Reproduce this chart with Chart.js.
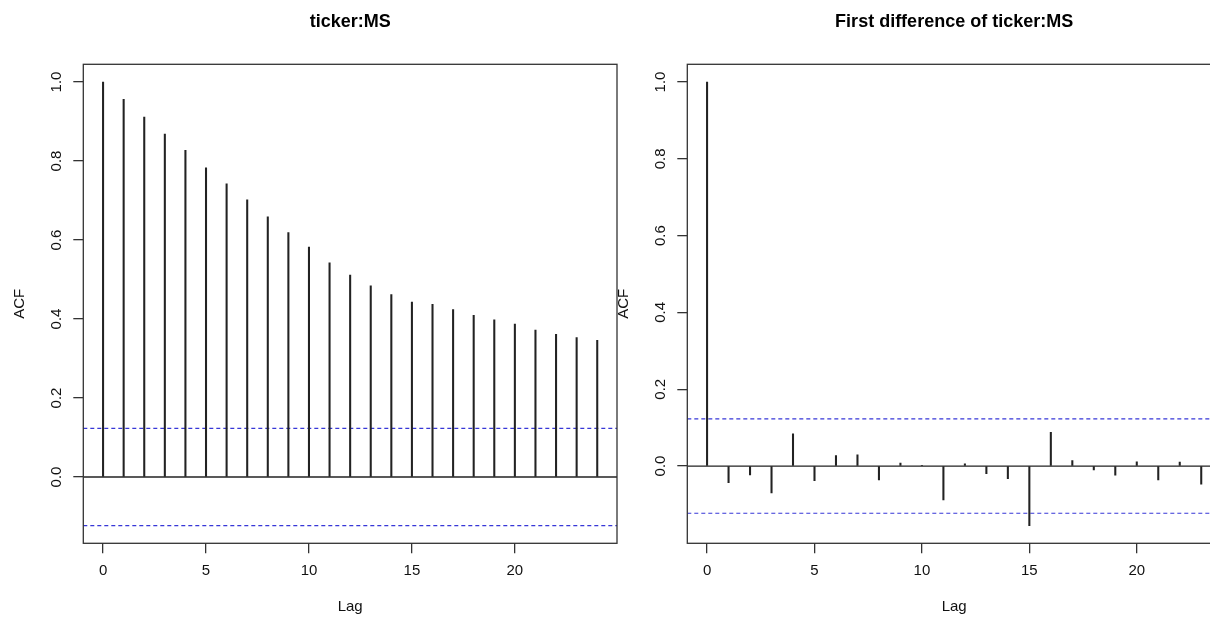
<!DOCTYPE html>
<html>
<head>
<meta charset="utf-8">
<script src="https://cdn.jsdelivr.net/npm/chart.js@4.4.1/dist/chart.umd.min.js"></script>
<style>
    html, body { margin: 0; padding: 0; background: #fff; overflow: hidden; }
    #wrap { position: relative; width: 1210px; height: 617px; overflow: hidden; }
    canvas { position: absolute; top: 0; }
    #acfLevel { left: 0; }
    #acfDiff { left: 604px; }
</style>
</head>
<body>
<div id="wrap">
    <canvas id="acfLevel" width="640" height="617"></canvas>
    <canvas id="acfDiff" width="640" height="617"></canvas>
</div>
<script>
const FONT = "'Liberation Sans', Arial, Helvetica, sans-serif";
Chart.defaults.font.family = FONT;
Chart.defaults.color = "#111";

// titles and axis names
const titleLevel = "ticker:MS";
const titleDiff = "First difference of ticker:MS";
const xTitle = "Lag";
const yTitle = "ACF";

// ACF values, lag 0 upwards
const acfLevel = [1.0, 0.956, 0.911, 0.868, 0.827, 0.783, 0.742, 0.702, 0.659, 0.619,
    0.582, 0.542, 0.511, 0.484, 0.462, 0.443, 0.437, 0.424, 0.409, 0.398,
    0.387, 0.372, 0.361, 0.353, 0.346];
const acfDiff = [1.0, -0.043, -0.023, -0.070, 0.084, -0.038, 0.027, 0.029, -0.036, 0.008,
    0.002, -0.088, 0.006, -0.020, -0.033, -0.155, 0.088, 0.014, -0.010, -0.024,
    0.011, -0.036, 0.010, -0.047];

// blue dashed confidence bounds (+/-)
const confLevel = 0.123;
const confDiff = 0.123;

// ticks
const xTickValues = [0, 5, 10, 15, 20];
const xTickLabels = ["0", "5", "10", "15", "20"];
const yTickValues = [0, 0.2, 0.4, 0.6, 0.8, 1.0];
const yTickLabels = ["0.0", "0.2", "0.4", "0.6", "0.8", "1.0"];

// box around plot + rotated y labels (R style)
const rBox = {
    id: "rBox",
    afterDraw(chart) {
        const { ctx, chartArea: a, scales } = chart;
        ctx.save();
        ctx.strokeStyle = "#333";
        ctx.lineWidth = 1.3;
        ctx.strokeRect(a.left, a.top, a.right - a.left, a.bottom - a.top);

        ctx.fillStyle = "#111";
        ctx.font = "15px " + FONT;
        ctx.textAlign = "center";
        ctx.textBaseline = "middle";
        scales.y.ticks.forEach((t, i) => {
            const y = scales.y.getPixelForValue(t.value);
            ctx.save();
            ctx.translate(a.left - 26.5, y);
            ctx.rotate(-Math.PI / 2);
            ctx.fillText(yTickLabels[i], 0, 0);
            ctx.restore();
        });
        ctx.restore();
    }
};

function makeAcf(canvasId, title, acf, conf) {
    const n = acf.length - 1;
    const xMin = -0.04 * n;
    const xMax = n * 1.04;
    const lo = Math.min(-conf, ...acf);
    const hi = Math.max(conf, ...acf);
    const pad = (hi - lo) * 0.04;

    const flat = (v) => [{ x: xMin, y: v }, { x: xMax, y: v }];
    const dashed = {
        type: "line",
        borderColor: "rgb(55,55,215)",
        borderDash: [4, 3],
        borderWidth: 1.2,
        pointRadius: 0
    };

    const ctx = document.getElementById(canvasId).getContext("2d");
    return new Chart(ctx, {
        type: "bar",
        data: {
            datasets: [
                {
                    data: acf.map((v, i) => ({ x: i, y: v })),
                    backgroundColor: "#222",
                    borderWidth: 0,
                    barThickness: 1.4,
                    grouped: false
                },
                { type: "line", data: flat(0), borderColor: "#222", borderWidth: 1.3, pointRadius: 0 },
                Object.assign({ data: flat(conf) }, dashed),
                Object.assign({ data: flat(-conf) }, dashed)
            ]
        },
        options: {
            responsive: false,
            animation: false,
            layout: { padding: { left: 0, right: 23, top: 0, bottom: 0 } },
            plugins: {
                legend: { display: false },
                tooltip: { enabled: false },
                title: {
                    display: true,
                    text: title,
                    fullSize: false,
                    color: "#000",
                    font: { size: 18, weight: "bold" },
                    padding: { top: 11, bottom: 31.7 }
                }
            },
            scales: {
                x: {
                    type: "linear",
                    min: xMin,
                    max: xMax,
                    offset: false,
                    afterBuildTicks: (s) => { s.ticks = xTickValues.map((v) => ({ value: v })); },
                    afterFit: (s) => { s.height = 73.7; },
                    grid: { offset: false, drawOnChartArea: false, tickLength: 10, color: "#333", lineWidth: 1.3 },
                    border: { display: false },
                    ticks: {
                        autoSkip: false,
                        maxRotation: 0,
                        padding: 9,
                        font: { size: 15 },
                        callback: (v) => xTickLabels[xTickValues.indexOf(v)]
                    },
                    title: { display: true, text: xTitle, font: { size: 15 }, padding: { top: 0, bottom: 1 } }
                },
                y: {
                    min: lo - pad,
                    max: hi + pad,
                    afterBuildTicks: (s) => { s.ticks = yTickValues.map((v) => ({ value: v })); },
                    afterFit: (s) => { s.width = 83.3; },
                    grid: { drawOnChartArea: false, tickLength: 10, color: "#333", lineWidth: 1.3 },
                    border: { display: false },
                    ticks: { display: false },
                    title: { display: true, text: yTitle, font: { size: 15 }, padding: { top: 10.5, bottom: 0 } }
                }
            }
        },
        plugins: [rBox]
    });
}

makeAcf("acfLevel", titleLevel, acfLevel, confLevel);
makeAcf("acfDiff", titleDiff, acfDiff, confDiff);
</script>
</body>
</html>
